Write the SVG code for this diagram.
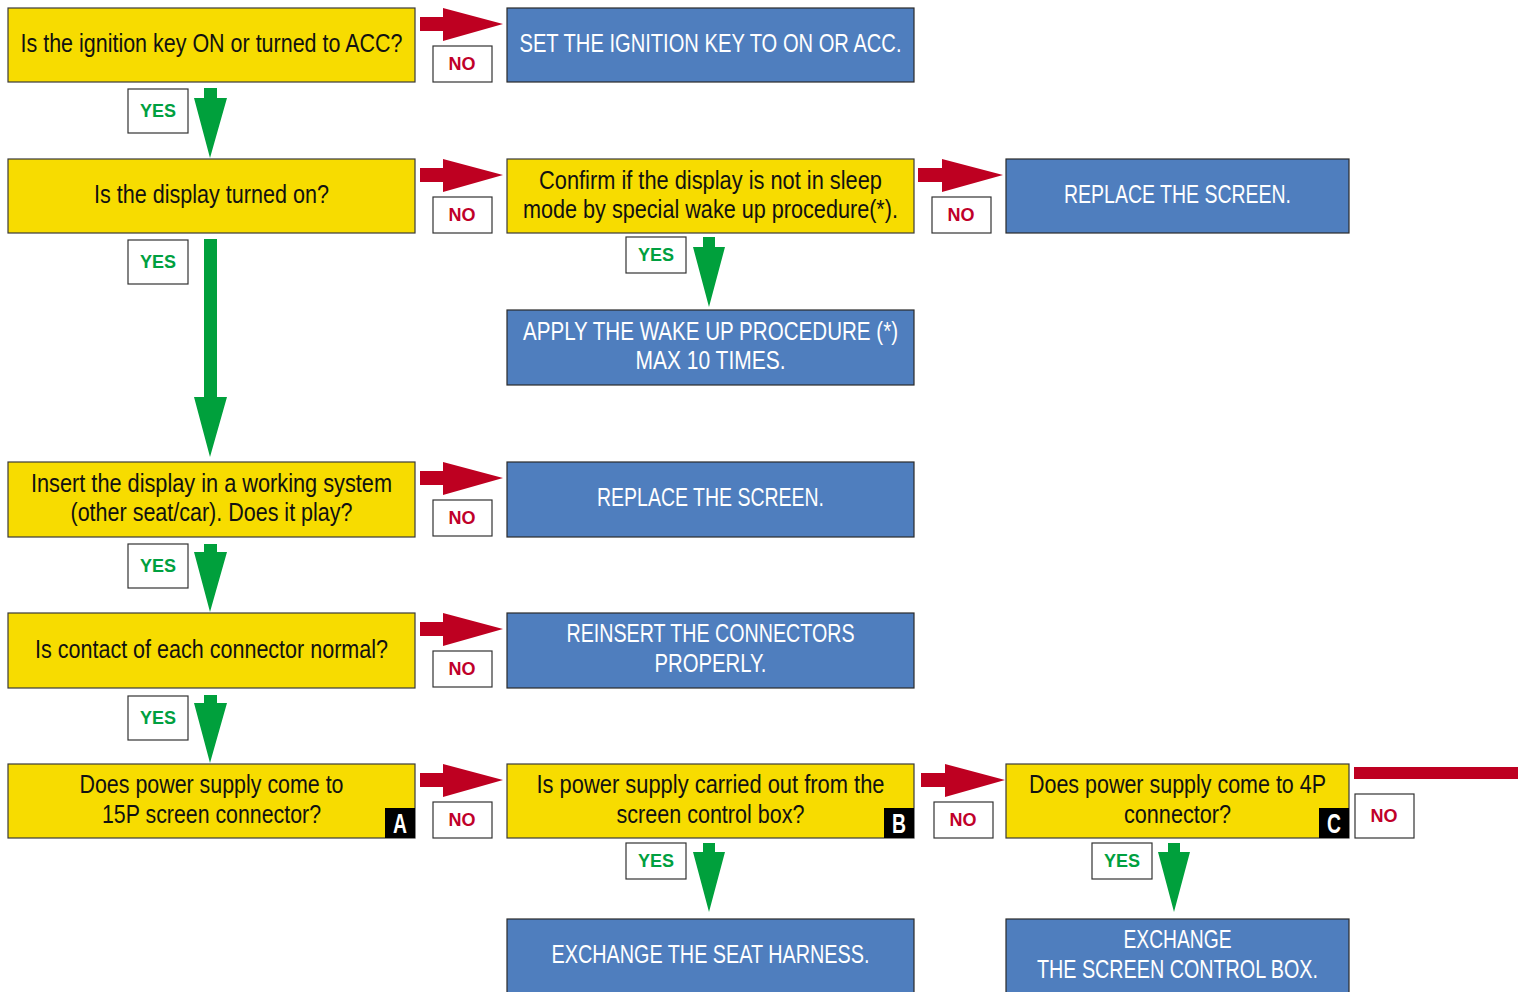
<svg xmlns="http://www.w3.org/2000/svg" width="1518" height="992" viewBox="0 0 1518 992">
<style>
.q{fill:#F7DC00;stroke:#3a3a3a;stroke-width:1.2}
.a{fill:#4F7EBE;stroke:#2a2a2a;stroke-width:1.2}
.lb{fill:#fff;stroke:#333;stroke-width:1.2}
.t{font-family:"Liberation Sans",Arial,sans-serif;font-size:26px;text-anchor:middle;fill:#111}
.w{fill:#fff}
.no{font-family:"Liberation Sans",Arial,sans-serif;font-size:18px;font-weight:bold;fill:#C0002A;text-anchor:middle}
.yes{font-family:"Liberation Sans",Arial,sans-serif;font-size:18px;font-weight:bold;fill:#00A040;text-anchor:middle}
.red{fill:#BE0021}
.grn{fill:#00A03C}
.tag{fill:#000}
.tagt{font-family:"Liberation Sans",Arial,sans-serif;font-size:28px;font-weight:bold;fill:#fff;text-anchor:middle}
</style>
<rect width="1518" height="992" fill="#fff"/>
<g id="connectors">
  <polygon class="red" points="420,17 443,17 443,8 503,24 443,41 443,31 420,31"/>
  <polygon class="red" points="420,168 443,168 443,159 503,175 443,192 443,182 420,182"/>
  <polygon class="red" points="420,471 443,471 443,462 503,478 443,495 443,485 420,485"/>
  <polygon class="red" points="420,622 443,622 443,613 503,629 443,646 443,636 420,636"/>
  <polygon class="red" points="420,773 443,773 443,764 503,780 443,797 443,787 420,787"/>
  <polygon class="red" points="918,168 942,168 942,159 1003,175 942,192 942,182 918,182"/>
  <polygon class="red" points="921,773 945,773 945,764 1005,780 945,797 945,787 921,787"/>
  <rect class="red" x="1354" y="767" width="164" height="12"/>
  <polygon class="grn" points="204,88 217,88 217,98 227,98 210,158 194,98 204,98"/>
  <polygon class="grn" points="204,239 217,239 217,397 227,397 210,457 194,397 204,397"/>
  <polygon class="grn" points="204,544 217,544 217,552 227,552 210,612 194,552 204,552"/>
  <polygon class="grn" points="204,695 217,695 217,703 227,703 210,763 194,703 204,703"/>
  <polygon class="grn" points="703,237 715,237 715,247 725,247 709,307 693,247 703,247"/>
  <polygon class="grn" points="703,843 715,843 715,852 725,852 709,912 693,852 703,852"/>
  <polygon class="grn" points="1168,843 1180,843 1180,852 1190,852 1174,912 1158,852 1168,852"/>
</g>
<g id="labels">
  <rect class="lb" x="433" y="46" width="59" height="36"/><text class="no" x="462" y="70">NO</text>
  <rect class="lb" x="433" y="197" width="59" height="36"/><text class="no" x="462" y="221">NO</text>
  <rect class="lb" x="433" y="500" width="59" height="36"/><text class="no" x="462" y="524">NO</text>
  <rect class="lb" x="433" y="651" width="59" height="36"/><text class="no" x="462" y="675">NO</text>
  <rect class="lb" x="433" y="802" width="59" height="36"/><text class="no" x="462" y="826">NO</text>
  <rect class="lb" x="932" y="197" width="59" height="36"/><text class="no" x="961" y="221">NO</text>
  <rect class="lb" x="934" y="802" width="59" height="36"/><text class="no" x="963" y="826">NO</text>
  <rect class="lb" x="1355" y="794" width="59" height="44"/><text class="no" x="1384" y="822">NO</text>
  <rect class="lb" x="128" y="89" width="60" height="44"/><text class="yes" x="158" y="117">YES</text>
  <rect class="lb" x="128" y="240" width="60" height="44"/><text class="yes" x="158" y="268">YES</text>
  <rect class="lb" x="128" y="544" width="60" height="44"/><text class="yes" x="158" y="572">YES</text>
  <rect class="lb" x="128" y="696" width="60" height="44"/><text class="yes" x="158" y="724">YES</text>
  <rect class="lb" x="626" y="237" width="60" height="36"/><text class="yes" x="656" y="261">YES</text>
  <rect class="lb" x="626" y="843" width="60" height="36"/><text class="yes" x="656" y="867">YES</text>
  <rect class="lb" x="1092" y="843" width="60" height="36"/><text class="yes" x="1122" y="867">YES</text>
</g>
<g id="n1"><rect class="q" x="8" y="8" width="407" height="74"/>
  <text class="t" x="211.5" y="52" textLength="382" lengthAdjust="spacingAndGlyphs">Is the ignition key ON or turned to ACC?</text></g>
<g id="n2"><rect class="a" x="507" y="8" width="407" height="74"/>
  <text class="t w" x="710.5" y="52" textLength="382" lengthAdjust="spacingAndGlyphs">SET THE IGNITION KEY TO ON OR ACC.</text></g>
<g id="n3"><rect class="q" x="8" y="159" width="407" height="74"/>
  <text class="t" x="211.5" y="203" textLength="235" lengthAdjust="spacingAndGlyphs">Is the display turned on?</text></g>
<g id="n4"><rect class="q" x="507" y="159" width="407" height="74"/>
  <text class="t" x="710.5" y="189" textLength="343" lengthAdjust="spacingAndGlyphs">Confirm if the display is not in sleep</text>
  <text class="t" x="710.5" y="218" textLength="375" lengthAdjust="spacingAndGlyphs">mode by special wake up procedure(*).</text></g>
<g id="n5"><rect class="a" x="1006" y="159" width="343" height="74"/>
  <text class="t w" x="1177.5" y="203" textLength="227" lengthAdjust="spacingAndGlyphs">REPLACE THE SCREEN.</text></g>
<g id="n6"><rect class="a" x="507" y="310" width="407" height="75"/>
  <text class="t w" x="710.5" y="340" textLength="375" lengthAdjust="spacingAndGlyphs">APPLY THE WAKE UP PROCEDURE (*)</text>
  <text class="t w" x="710.5" y="369" textLength="150" lengthAdjust="spacingAndGlyphs">MAX 10 TIMES.</text></g>
<g id="n7"><rect class="q" x="8" y="462" width="407" height="75"/>
  <text class="t" x="211.5" y="492" textLength="361" lengthAdjust="spacingAndGlyphs">Insert the display in a working system</text>
  <text class="t" x="211.5" y="521" textLength="282" lengthAdjust="spacingAndGlyphs">(other seat/car). Does it play?</text></g>
<g id="n8"><rect class="a" x="507" y="462" width="407" height="75"/>
  <text class="t w" x="710.5" y="506" textLength="227" lengthAdjust="spacingAndGlyphs">REPLACE THE SCREEN.</text></g>
<g id="n9"><rect class="q" x="8" y="613" width="407" height="75"/>
  <text class="t" x="211.5" y="658" textLength="353" lengthAdjust="spacingAndGlyphs">Is contact of each connector normal?</text></g>
<g id="n10"><rect class="a" x="507" y="613" width="407" height="75"/>
  <text class="t w" x="710.5" y="642" textLength="288" lengthAdjust="spacingAndGlyphs">REINSERT THE CONNECTORS</text>
  <text class="t w" x="710.5" y="672" textLength="112" lengthAdjust="spacingAndGlyphs">PROPERLY.</text></g>
<g id="n11"><rect class="q" x="8" y="764" width="407" height="74"/>
  <text class="t" x="211.5" y="793" textLength="264" lengthAdjust="spacingAndGlyphs">Does power supply come to</text>
  <text class="t" x="211.5" y="823" textLength="219" lengthAdjust="spacingAndGlyphs">15P screen connector?</text>
  <rect class="tag" x="385" y="808" width="30" height="30"/>
  <text class="tagt" x="400" y="833" textLength="14" lengthAdjust="spacingAndGlyphs">A</text></g>
<g id="n12"><rect class="q" x="507" y="764" width="407" height="74"/>
  <text class="t" x="710.5" y="793" textLength="348" lengthAdjust="spacingAndGlyphs">Is power supply carried out from the</text>
  <text class="t" x="710.5" y="823" textLength="188" lengthAdjust="spacingAndGlyphs">screen control box?</text>
  <rect class="tag" x="884" y="808" width="30" height="30"/>
  <text class="tagt" x="899" y="833" textLength="14" lengthAdjust="spacingAndGlyphs">B</text></g>
<g id="n13"><rect class="q" x="1006" y="764" width="343" height="74"/>
  <text class="t" x="1177.5" y="793" textLength="297" lengthAdjust="spacingAndGlyphs">Does power supply come to 4P</text>
  <text class="t" x="1177.5" y="823" textLength="107" lengthAdjust="spacingAndGlyphs">connector?</text>
  <rect class="tag" x="1319" y="808" width="30" height="30"/>
  <text class="tagt" x="1334" y="833" textLength="14" lengthAdjust="spacingAndGlyphs">C</text></g>
<g id="n14"><rect class="a" x="507" y="919" width="407" height="80"/>
  <text class="t w" x="710.5" y="963" textLength="318" lengthAdjust="spacingAndGlyphs">EXCHANGE THE SEAT HARNESS.</text></g>
<g id="n15"><rect class="a" x="1006" y="919" width="343" height="80"/>
  <text class="t w" x="1177.5" y="948" textLength="108" lengthAdjust="spacingAndGlyphs">EXCHANGE</text>
  <text class="t w" x="1177.5" y="978" textLength="281" lengthAdjust="spacingAndGlyphs">THE SCREEN CONTROL BOX.</text></g>
</svg>
